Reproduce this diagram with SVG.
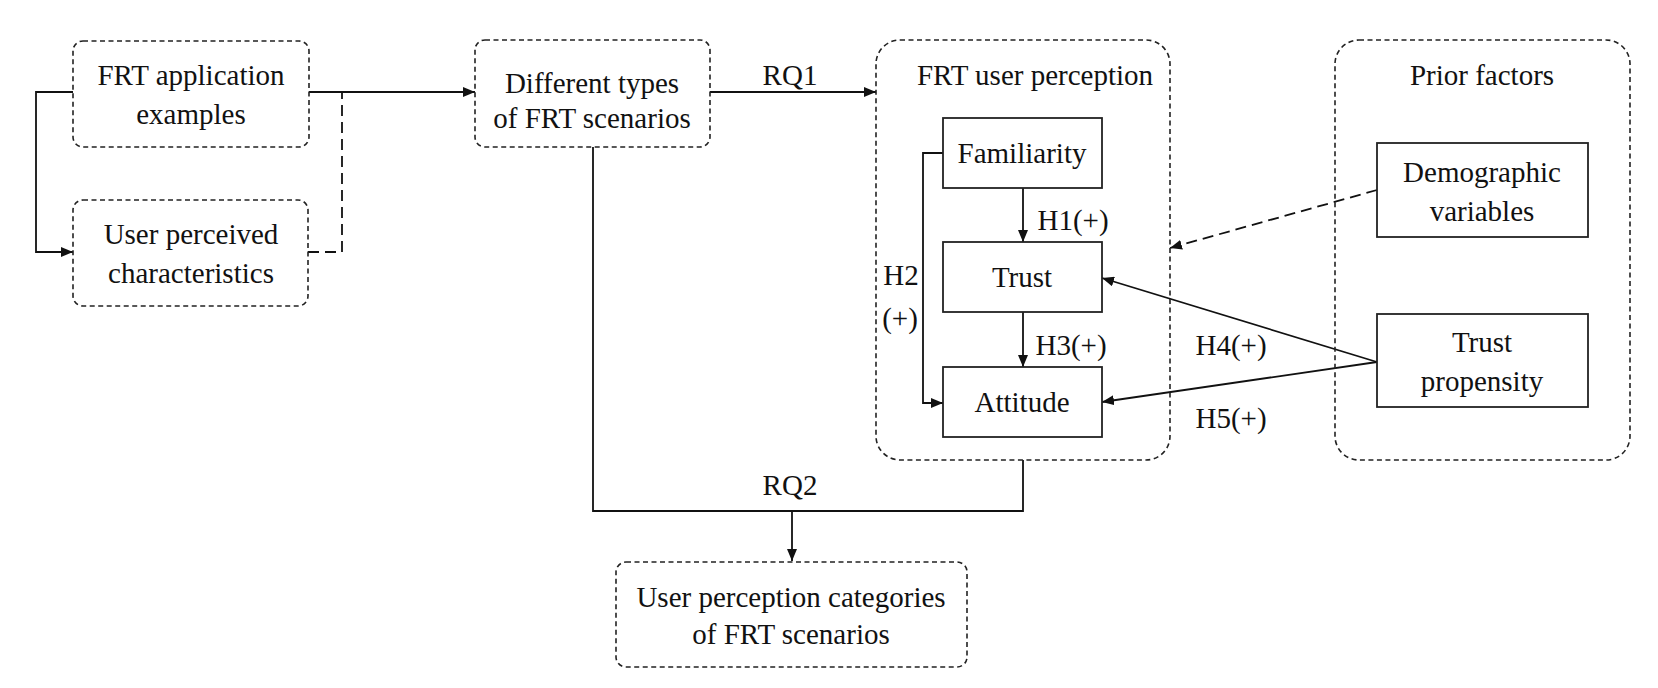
<svg xmlns="http://www.w3.org/2000/svg" width="1658" height="688" viewBox="0 0 1658 688">
<style>
text{font-family:"Liberation Serif","Times New Roman",serif;font-size:29px;fill:#111;text-anchor:middle}
.db{fill:none;stroke:#222;stroke-width:1.6;stroke-dasharray:5,3.5}
.sb{fill:#fff;stroke:#222;stroke-width:1.8}
.c{fill:none;stroke:#111;stroke-width:1.8}
.cd{fill:none;stroke:#111;stroke-width:1.8;stroke-dasharray:11,6}
</style>
<defs>
<marker id="a" markerWidth="12" markerHeight="10" refX="12" refY="5" orient="auto" markerUnits="userSpaceOnUse">
<path d="M0,0 L12,5 L0,10 Z" fill="#111"/>
</marker>
</defs>
<rect width="1658" height="688" fill="#fff"/>
<g id="connectors">
<path class="c" d="M73,92 H36 V252 H73" marker-end="url(#a)"/>
<path class="c" d="M309,92 H475" marker-end="url(#a)"/>
<path class="cd" d="M308,252 H342 V92"/>
<path class="c" d="M710,92 H876" marker-end="url(#a)"/>
<path class="c" d="M1023,188 V242" marker-end="url(#a)"/>
<path class="c" d="M1023,312 V367" marker-end="url(#a)"/>
<path class="c" d="M943,153 H923 V403 H943" marker-end="url(#a)"/>
<path class="cd" d="M1377,190 L1170,248" marker-end="url(#a)"/>
<path class="c" d="M1377,362 L1102,278" marker-end="url(#a)"/>
<path class="c" d="M1377,362 L1102,402" marker-end="url(#a)"/>
<path class="c" d="M593,147 V511 H1023 V460"/>
<path class="c" d="M792,511 V561" marker-end="url(#a)"/>
<text x="790" y="85">RQ1</text>
<text x="790" y="495">RQ2</text>
<text x="1073" y="230">H1(+)</text>
<text x="1071" y="355">H3(+)</text>
<text x="901" y="285">H2</text>
<text x="900" y="328">(+)</text>
<text x="1231" y="355">H4(+)</text>
<text x="1231" y="428">H5(+)</text>
</g>
<g id="frt-examples">
<rect class="db" x="73" y="41" width="236" height="106" rx="10"/>
<text x="191" y="85">FRT application</text>
<text x="191" y="124">examples</text>
</g>
<g id="user-perceived">
<rect class="db" x="73" y="200" width="235" height="106" rx="10"/>
<text x="191" y="244">User perceived</text>
<text x="191" y="283">characteristics</text>
</g>
<g id="scenario-types">
<rect class="db" x="475" y="40" width="235" height="107" rx="10"/>
<text x="592" y="93">Different types</text>
<text x="592" y="128">of FRT scenarios</text>
</g>
<g id="frt-user-perception">
<rect class="db" x="876" y="40" width="294" height="420" rx="24"/>
<text x="1035" y="85">FRT user perception</text>
</g>
<g id="familiarity">
<rect class="sb" x="943" y="118" width="159" height="70"/>
<text x="1022" y="163">Familiarity</text>
</g>
<g id="trust">
<rect class="sb" x="943" y="242" width="159" height="70"/>
<text x="1022" y="287">Trust</text>
</g>
<g id="attitude">
<rect class="sb" x="943" y="367" width="159" height="70"/>
<text x="1022" y="412">Attitude</text>
</g>
<g id="prior-factors">
<rect class="db" x="1335" y="40" width="295" height="420" rx="24"/>
<text x="1482" y="85">Prior factors</text>
</g>
<g id="demographic">
<rect class="sb" x="1377" y="143" width="211" height="94"/>
<text x="1482" y="182">Demographic</text>
<text x="1482" y="221">variables</text>
</g>
<g id="trust-propensity">
<rect class="sb" x="1377" y="314" width="211" height="93"/>
<text x="1482" y="352">Trust</text>
<text x="1482" y="391">propensity</text>
</g>
<g id="perception-categories">
<rect class="db" x="616" y="562" width="351" height="105" rx="10"/>
<text x="791" y="607">User perception categories</text>
<text x="791" y="644">of FRT scenarios</text>
</g>
</svg>
